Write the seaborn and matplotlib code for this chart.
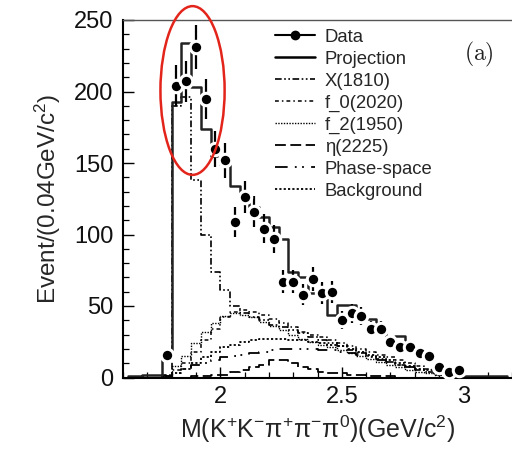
import numpy as np
import matplotlib
matplotlib.use("Agg")
import matplotlib.pyplot as plt
import seaborn as sns
from matplotlib.lines import Line2D
from matplotlib.patches import Ellipse
from matplotlib.ticker import MultipleLocator

# ---- data ----
bin_centers = np.round(np.arange(1.62, 3.20, 0.04), 2)  # 40 bins of 0.04 GeV

projection = [1, 1, 2, 2, 17, 193, 234, 203, 174, 155, 149, 134, 127, 119, 112, 105, 97, 74, 70, 59,
              59, 44, 51, 51, 41, 41, 34, 27, 29, 22, 17, 13, 8, 4, 2, 1, 1, 1, 1, 1]
x1810 = [0, 0, 0, 0, 2, 190, 196, 138, 100, 74, 61, 50, 45, 42, 40, 37, 35, 33, 31, 28,
         26, 24, 22, 19, 17, 15, 13, 11, 9, 7, 5, 4, 2, 1, 0, 0, 0, 0, 0, 0]
f0_2020 = [0, 0, 0, 0, 1, 5, 10, 18, 26, 34, 42, 46, 47, 46, 44, 41, 38, 35, 32, 30,
           28, 26, 24, 22, 20, 18, 16, 14, 12, 10, 8, 6, 4, 2, 1, 0, 0, 0, 0, 0]
f2_1950 = [0, 0, 0, 0, 1, 8, 15, 24, 32, 38, 43, 45, 44, 42, 39, 36, 33, 30, 27, 25,
           23, 21, 19, 17, 15, 13, 11, 9, 7, 5, 4, 3, 2, 1, 0, 0, 0, 0, 0, 0]
eta_2225 = [0, 0, 0, 0, 0, 0, 0, 1, 1, 2, 2, 4, 5, 7, 9, 12, 12, 10, 7, 6,
            4, 3, 3, 2, 2, 1, 1, 1, 0, 0, 0, 0, 0, 0, 0, 0, 0, 0, 0, 0]
phase_space = [0, 0, 0, 0, 1, 3, 6, 9, 10, 12, 14, 15, 16, 17, 18, 19, 20, 20, 20, 20,
               19, 19, 18, 17, 16, 14, 12, 11, 9, 7, 6, 4, 3, 2, 1, 0, 0, 0, 0, 0]
background = [0, 0, 0, 0, 1, 3, 6, 10, 14, 18, 21, 23, 25, 26, 27, 27, 27, 26, 26, 25,
              24, 23, 22, 20, 18, 16, 14, 12, 10, 8, 6, 5, 3, 2, 1, 0, 0, 0, 0, 0]

data_x = [1.78, 1.82, 1.86, 1.90, 1.94, 1.98, 2.02, 2.06, 2.10, 2.14, 2.18, 2.22, 2.26, 2.30,
          2.34, 2.38, 2.42, 2.46, 2.50, 2.54, 2.58, 2.62, 2.66, 2.70, 2.74, 2.78, 2.82, 2.86,
          2.90, 2.94, 2.98]
data_y = [16, 204, 207, 231, 195, 160, 152, 109, 126, 116, 104, 97, 67, 67,
          58, 69, 59, 60, 40, 45, 43, 34, 34, 25, 21, 21, 17, 15,
          7, 4, 5]

legend_labels = ["Data", "Projection", "X(1810)", "f_0(2020)", "f_2(1950)",
                 "η(2225)", "Phase-space", "Background"]

# ---- style ----
sns.set_theme(style="ticks")
plt.rcParams["font.family"] = ["Liberation Sans", "DejaVu Sans"]
plt.rcParams["mathtext.fontset"] = "custom"
plt.rcParams["mathtext.rm"] = "Liberation Sans"
plt.rcParams["mathtext.it"] = "Liberation Sans:italic"

fig = plt.figure(figsize=(5.12, 4.49), dpi=100)
ax = fig.add_axes([123 / 512, 1 - 377.5 / 449, 1 - 123 / 512, (377.5 - 20) / 449])

styles = {
    "X(1810)": dict(ls=(0, (4, 1.5, 1, 1.5, 1, 1.5)), lw=1.2),
    "f_0(2020)": dict(ls=(0, (2.5, 2, 1, 2)), lw=1.1),
    "f_2(1950)": dict(ls=(0, (1, 1)), lw=1.0),
    "η(2225)": dict(ls=(0, (6, 2.5)), lw=1.3),
    "Phase-space": dict(ls=(0, (7, 4, 1, 3, 1, 4)), lw=1.3),
    "Background": dict(ls=(0, (1.2, 1.2)), lw=1.3),
}
comps = {
    "X(1810)": x1810, "f_0(2020)": f0_2020, "f_2(1950)": f2_1950,
    "η(2225)": eta_2225, "Phase-space": phase_space, "Background": background,
}
for name, vals in comps.items():
    st = styles[name]
    sns.lineplot(x=bin_centers, y=vals, ax=ax, drawstyle="steps-mid", color="black",
                 linestyle=st["ls"], linewidth=st["lw"], legend=False)

sns.lineplot(x=bin_centers, y=projection, ax=ax, drawstyle="steps-mid", color="#222222",
             linewidth=1.8, legend=False)

ax.errorbar(data_x, data_y, yerr=np.sqrt(data_y), fmt="none", ecolor="black",
            elinewidth=1.6, capsize=0, zorder=4)
sns.scatterplot(x=data_x, y=data_y, ax=ax, color="black", s=80, edgecolor="white",
                linewidth=2.2, zorder=5, legend=False)

ax.set_xlim(1.6, 3.2)
ax.set_ylim(0, 250)
ax.xaxis.set_major_locator(MultipleLocator(0.5))
ax.xaxis.set_minor_locator(MultipleLocator(0.1))
ax.yaxis.set_major_locator(MultipleLocator(50))
ax.yaxis.set_minor_locator(MultipleLocator(10))
ax.set_xticks([2, 2.5, 3])
ax.set_xticklabels(["2", "2.5", "3"])
ax.tick_params(axis="both", which="major", direction="in", length=8, width=1.0,
               labelsize=17, color="black", labelcolor="#111111")
ax.tick_params(axis="both", which="minor", direction="in", length=4.5, width=0.9, color="black")
ax.tick_params(axis="y", pad=7)
ax.tick_params(axis="x", pad=6)

for sp in ["left", "bottom"]:
    ax.spines[sp].set_linewidth(1.5)
    ax.spines[sp].set_color("black")
ax.spines["top"].set_linewidth(1.0)
ax.spines["top"].set_color("#555555")
ax.spines["right"].set_visible(False)

ax.set_ylabel("Event/(0.04GeV/c$^{2}$)", fontsize=17.5, labelpad=8)
ax.set_xlabel("M(K$^{+}$K$^{-}$π$^{+}$π$^{-}$π$^{0}$)(GeV/c$^{2}$)", fontsize=18, labelpad=4)

handles = [Line2D([0], [0], color="black", lw=1.5, marker="o", markersize=6),
           Line2D([0], [0], color="black", lw=1.8)]
for name in legend_labels[2:]:
    st = styles[name]
    handles.append(Line2D([0], [0], color="black", ls=st["ls"], lw=st["lw"]))
leg = ax.legend(handles, legend_labels, loc="upper left", bbox_to_anchor=(0.39, 0.976),
                frameon=False, fontsize=13.3, handlelength=2.2, handletextpad=0.5,
                labelspacing=0.27, borderpad=0, borderaxespad=0)

ax.text(0.915, 0.905, r"$(\mathrm{a})$", transform=ax.transAxes, fontsize=17,
        math_fontfamily="cm", ha="center", va="center", color="#222222")

ell = Ellipse((1.886, 200.7), width=0.264, height=118, fill=False, edgecolor="#e3241b",
              linewidth=1.8, clip_on=False, zorder=6)
ax.add_patch(ell)

fig.savefig("out.png", dpi=100)
